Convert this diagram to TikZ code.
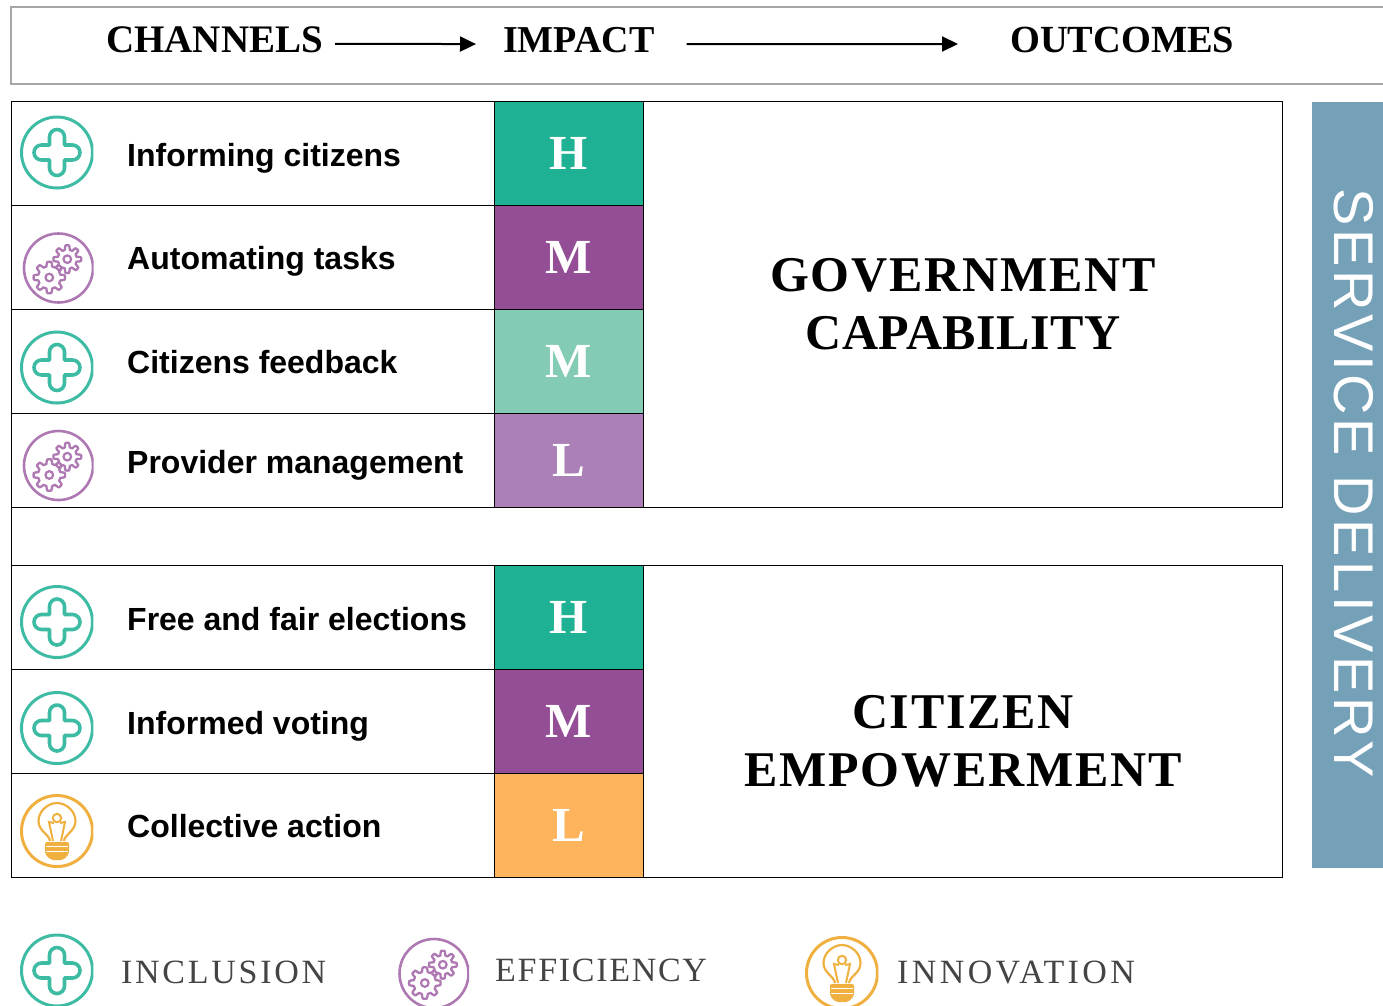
\documentclass[tikz,border=0pt]{standalone}
\usepackage{fontspec}
\setmainfont{Liberation Serif}
\setsansfont{Liberation Sans}
\newfontfamily\outcomefont[LetterSpace=3.6]{Liberation Serif}
\newfontfamily\legendfont[LetterSpace=8]{Liberation Serif}
\newfontfamily\servicefont[LetterSpace=6.8]{Liberation Sans}
\usetikzlibrary{arrows.meta}
\definecolor{inclfull}{HTML}{1FB193}
\definecolor{inclpale}{HTML}{83CBB5}
\definecolor{efffull}{HTML}{934E96}
\definecolor{effpale}{HTML}{AB80B6}
\definecolor{innofull}{HTML}{FDB45C}
\definecolor{inclline}{HTML}{3DBBA3}
\definecolor{effline}{HTML}{AE78B2}
\definecolor{innoline}{HTML}{F0B040}
\definecolor{serviceblue}{HTML}{74A0B8}
\definecolor{legendgrey}{HTML}{444444}
\newcommand{\gearpath}[3]{%
	\draw[line width=2.3pt, line join=round] plot[domain=0:356.25, samples=96]
		({#1+(#3+2.2*max(-1,min(1,2*cos(8*\x))))*cos(\x)}, {#2+(#3+2.2*max(-1,min(1,2*cos(8*\x))))*sin(\x)}) -- cycle;
	\draw[line width=2.2pt] (#1,#2) circle (3.8);
}
\tikzset{
	rowbox/.style={draw=black, line width=1pt, outer sep=0pt, minimum width=483pt, minimum height=104pt, inner sep=0pt},
	impactcell/.style={draw=black, line width=1pt, minimum width=149pt, text=white, inner sep=0pt, font=\fontsize{49}{49}\selectfont\bfseries},
	outcomebox/.style={draw=black, line width=1pt, minimum width=639pt, inner sep=0pt},
	outcometext/.style={align=center, inner sep=0pt, font=\fontsize{50}{58}\selectfont\outcomefont\bfseries},
	rowlabel/.style={anchor=base west, inner sep=0pt, font=\fontsize{32}{36}\selectfont\sffamily\bfseries},
	headlabel/.style={anchor=base west, inner sep=0pt, font=\fontsize{39}{39}\selectfont\bfseries},
	legendlabel/.style={anchor=base west, inner sep=0pt, text=legendgrey, font=\fontsize{34}{34}\selectfont\legendfont},
	headarrow/.style={-{Stealth[length=16pt, width=15pt, inset=0pt]}, line width=2pt},
	plusicon/.pic={
		\begin{scope}
			\clip (-38,-38) rectangle (36.3,38);
			\draw[inclline, line width=3pt] (0,0) circle (35.5);
			\draw[inclline, line width=3.6pt, line join=round] (-7.5,-7.5) -- (-7.5,-15.5) arc[start angle=180, end angle=360, radius=7.5] -- (7.5,-7.5) -- (15.5,-7.5) arc[start angle=-90, end angle=90, radius=7.5] -- (7.5,7.5) -- (7.5,15.5) arc[start angle=0, end angle=180, radius=7.5] -- (-7.5,7.5) -- (-15.5,7.5) arc[start angle=90, end angle=270, radius=7.5] -- cycle;
		\end{scope}
	},
	gearicon/.pic={
		\begin{scope}
			\clip (-38,-38) rectangle (35,38);
			\draw[effline, line width=2.6pt] (0,0) circle (34.5);
			\begin{scope}[effline]
				\gearpath{-9.2}{9.5}{13.5}
				\gearpath{8.8}{-8.8}{11.7}
			\end{scope}
		\end{scope}
	},
	bulbicon/.pic={
		\begin{scope}
			\clip (-38,-38) rectangle (36.3,38);
			\draw[innoline, line width=3pt] (0,0) circle (35.5);
			\draw[innoline, line width=2.2pt] (-7,10) .. controls (-8,3) and (-18.5,0) .. (-18.5,-10) .. controls (-18.5,-20) and (-9,-28) .. (0,-28) .. controls (9,-28) and (18.5,-20) .. (18.5,-10) .. controls (18.5,0) and (8,3) .. (7,10);
			\draw[innoline, line width=2pt] (-4,10) -- (-8,-9) -- (-3,-8) (3,-8) -- (8,-9) -- (4,10);
			\draw[innoline, line width=2pt] (0,-13) circle (4.2);
			\fill[innoline, rounded corners=2pt] (-12,11) -- (12,11) -- (12,23) -- (6,29) -- (-6,29) -- (-12,23) -- cycle;
			\draw[white, line width=1pt] (-11,15.5) -- (11,15.5);
			\draw[white, line width=1pt] (-11,20) -- (11,20);
		\end{scope}
	}
}
\begin{document}
\begin{tikzpicture}[x=1pt, y=-1pt]
	\useasboundingbox (0,0) rectangle (1383,1005);
	\clip (0,0) rectangle (1383,1005);

	\draw[black!35, line width=1.2pt] (1383,7) -- (11,7) -- (11,84) -- (1383,84);
	\node[headlabel] (channels) at (106,52) {CHANNELS};
	\node[headlabel, font=\fontsize{38}{38}\selectfont\bfseries] (impact) at (503,52) {IMPACT};
	\node[headlabel, font=\fontsize{38.4}{38.4}\selectfont\bfseries] (outcomes) at (1010,52) {OUTCOMES};
	\draw[headarrow, shorten <=12pt, shorten >=27pt] ([yshift=-4.5pt]channels.east) -- ([yshift=-4.5pt]impact.west);
	\draw[headarrow, shorten <=32pt, shorten >=52pt] ([yshift=-4.5pt]impact.east) -- ([yshift=-4.5pt]outcomes.west);

	\node[rowbox] (rowinform) at (252.7,153.3) {};
	\node[rowbox] (rowauto) at (252.7,257.3) {};
	\node[rowbox] (rowfeed) at (252.7,361.3) {};
	\node[rowbox, minimum height=94pt] (rowprov) at (252.7,460.3) {};
	\node[rowbox] (rowelect) at (252.7,617.3) {};
	\node[rowbox] (rowvote) at (252.7,721.3) {};
	\node[rowbox] (rowaction) at (252.7,825.3) {};
	\draw[black, line width=1pt] (rowprov.south west) -- (rowelect.north west);

	\node[impactcell, fill=inclfull, minimum height=104pt] (cellinform) at (569,153.3) {H};
	\node[impactcell, fill=efffull, minimum height=104pt] (cellauto) at (569,257.3) {M};
	\node[impactcell, fill=inclpale, minimum height=104pt] (cellfeed) at (569,361.3) {M};
	\node[impactcell, fill=effpale, minimum height=94pt] (cellprov) at (569,460.3) {L};
	\node[impactcell, fill=inclfull, minimum height=104pt] (cellelect) at (569,617.3) {H};
	\node[impactcell, fill=efffull, minimum height=104pt] (cellvote) at (569,721.3) {M};
	\node[impactcell, fill=innofull, minimum height=104pt] (cellaction) at (569,825.3) {L};

	\node[outcomebox, minimum height=406pt] (capbox) at (963.4,304.3) {};
	\node[outcomebox, minimum height=312pt] (empbox) at (963.4,721.3) {};
	\node[outcometext] (captext) at (963,304.5) {GOVERNMENT\\{\addfontfeature{LetterSpace=1}CAPABILITY}};
	\node[outcometext] (emptext) at (963,741) {CITIZEN\\EMPOWERMENT};

	\node[rowlabel] (labinform) at (127,166) {Informing citizens};
	\node[rowlabel] (labauto) at (127,269) {Automating tasks};
	\node[rowlabel] (labfeed) at (127,373) {Citizens feedback};
	\node[rowlabel] (labprov) at (127,473) {Provider management};
	\node[rowlabel] (labelect) at (127,630) {Free and fair elections};
	\node[rowlabel] (labvote) at (127,734) {Informed voting};
	\node[rowlabel] (labaction) at (127,837) {Collective action};

	\pic at (57,152.5) {plusicon};
	\pic at (58.5,268) {gearicon};
	\pic at (57,367.5) {plusicon};
	\pic at (58.5,465.5) {gearicon};
	\pic at (57,622) {plusicon};
	\pic at (57,728) {plusicon};
	\pic at (57,831) {bulbicon};

	\node[fill=serviceblue, minimum width=71pt, minimum height=766pt, inner sep=0pt] (servicebox) at (1347.5,485) {};
	\node[rotate=-90, text=white, inner sep=0pt, font=\fontsize{56}{56}\selectfont\servicefont] (servicetext) at (1353.5,483.5) {SERVICE DELIVERY};

	\pic at (57,970.5) {plusicon};
	\pic at (434,973.5) {gearicon};
	\pic at (842,973) {bulbicon};
	\node[legendlabel] (leginclusion) at (121,983) {INCLUSION};
	\node[legendlabel, font=\fontsize{34}{34}\selectfont\legendfont\addfontfeature{LetterSpace=5}] (legefficiency) at (495,981) {EFFICIENCY};
	\node[legendlabel, font=\fontsize{34}{34}\selectfont\legendfont\addfontfeature{LetterSpace=10}] (leginnovation) at (897,983) {INNOVATION};
\end{tikzpicture}
\end{document}
